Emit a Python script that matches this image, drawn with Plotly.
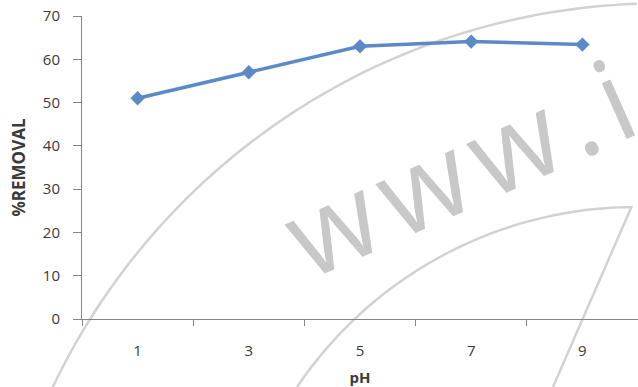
import math
import plotly.graph_objects as go

# pH values tested and the percentage removal measured at each
ph = [1, 3, 5, 7, 9]
removal = [51.0, 57.0, 63.0, 64.1, 63.4]

y_ticks = [0, 10, 20, 30, 40, 50, 60, 70]
x_tick_labels = ["1", "3", "5", "7", "9"]

LINE_BLUE = "#5a8ac8"
AXIS_GREY = "#868686"
TEXT_GREY = "#3a3a3a"
MARK_GREY = "#d2d2d2"

W, H = 638, 387
L, R, T, B = 82, 0, 16, 68
PW, PH = W - L - R, H - T - B


def to_paper(px, py):
    """Convert a pixel position on the page to paper coordinates."""
    return (px - L) / PW, (H - B - py) / PH


def arc_path(cx, cy, r, a0, a1, extra=()):
    """Circular arc (page pixels, angles in degrees) as a path in paper units."""
    n = 60
    pts = []
    for i in range(n + 1):
        a = math.radians(a0 + (a1 - a0) * i / n)
        pts.append((cx + r * math.cos(a), cy + r * math.sin(a)))
    pts.extend(extra)
    paper = [to_paper(*p) for p in pts]
    return "M " + " L ".join(f"{x:.4f},{y:.4f}" for x, y in paper)


fig = go.Figure()

fig.add_trace(
    go.Scatter(
        x=ph,
        y=removal,
        mode="lines+markers",
        line=dict(color=LINE_BLUE, width=3.5),
        marker=dict(symbol="diamond", size=11, color=LINE_BLUE),
        showlegend=False,
        cliponaxis=False,
    )
)

# Background watermark: two sweeping arcs, a straight stroke and the site address
shapes = [
    dict(
        type="path",
        xref="paper",
        yref="paper",
        path=arc_path(660.4, 676.4, 673, -154.6, -92.0),
        line=dict(color=MARK_GREY, width=2.5),
        layer="below",
    ),
    dict(
        type="path",
        xref="paper",
        yref="paper",
        path=arc_path(635.7, 615.6, 408.6, -146.0, -90.6, extra=[(553, 387)]),
        line=dict(color=MARK_GREY, width=2.5),
        layer="below",
    ),
]

wx, wy = to_paper(458, 165)
annotations = [
    dict(
        text='<span style="letter-spacing:11px">www.</span>i',
        xref="paper",
        yref="paper",
        x=wx,
        y=wy,
        xanchor="center",
        yanchor="middle",
        showarrow=False,
        textangle=-24,
        font=dict(family="Open Sans", size=114, color="#c8c8c8"),
    )
]

fig.update_layout(
    width=W,
    height=H,
    margin=dict(l=L, r=R, t=T, b=B, pad=0),
    paper_bgcolor="white",
    plot_bgcolor="rgba(0,0,0,0)",
    font=dict(family="Open Sans", size=15, color=TEXT_GREY),
    shapes=shapes,
    annotations=annotations,
    xaxis=dict(
        range=[0, 10],
        tickmode="array",
        tickvals=ph,
        ticktext=x_tick_labels,
        ticks="",
        ticklabelstandoff=18,
        showgrid=False,
        zeroline=False,
        showline=True,
        linecolor=AXIS_GREY,
        linewidth=1,
        minor=dict(
            tickmode="array",
            tickvals=[0, 2, 4, 6, 8, 10],
            ticks="outside",
            ticklen=6,
            tickcolor=AXIS_GREY,
            showgrid=False,
        ),
        title=dict(
            text="<b>pH</b>",
            font=dict(size=15, color=TEXT_GREY),
            standoff=14,
        ),
        fixedrange=True,
    ),
    yaxis=dict(
        range=[0, 70],
        tickmode="array",
        tickvals=y_ticks,
        ticks="outside",
        ticklen=8,
        tickcolor=AXIS_GREY,
        ticklabelstandoff=10,
        showgrid=False,
        zeroline=False,
        showline=True,
        linecolor=AXIS_GREY,
        linewidth=1,
        title=dict(
            text="<b>%REMOVAL</b>",
            font=dict(size=17, color=TEXT_GREY),
            standoff=12,
        ),
        fixedrange=True,
    ),
)

fig.write_html("out.html")
